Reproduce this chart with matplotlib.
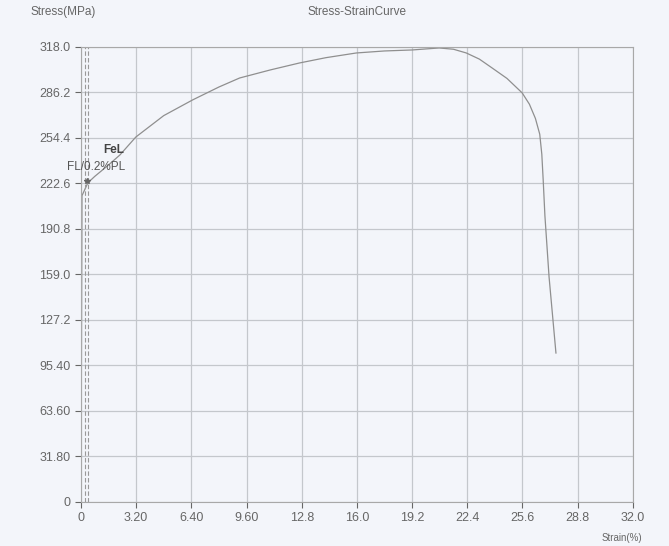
import numpy as np
import matplotlib.pyplot as plt

plt.rcParams['font.family'] = ['Liberation Sans Narrow', 'Liberation Sans', 'DejaVu Sans']

# curve
strain = [0.0, 0.06, 0.4, 0.8, 1.6, 2.26, 3.18, 4.8, 6.48, 8.0, 9.20, 11.0,
          12.67, 14.2, 15.97, 17.6, 19.21, 20.77, 21.6, 22.34, 23.1, 23.84,
          24.7, 25.58, 26.0, 26.35, 26.6, 26.72, 26.8, 26.9, 27.14, 27.54]
stress = [0.0, 214.0, 223.0, 227.5, 235.5, 242.5, 255.0, 270.0, 281.0, 290.0,
          296.3, 302.0, 306.8, 310.5, 313.8, 315.2, 315.9, 317.3, 316.4, 313.8,
          309.5, 303.3, 296.0, 285.9, 278.0, 268.0, 257.0, 243.0, 225.0, 200.0,
          157.3, 104.0]

xticks = [0, 3.2, 6.4, 9.6, 12.8, 16.0, 19.2, 22.4, 25.6, 28.8, 32.0]
xlabels = ['0', '3.20', '6.40', '9.60', '12.8', '16.0', '19.2', '22.4', '25.6', '28.8', '32.0']
yticks = [0, 31.8, 63.6, 95.4, 127.2, 159.0, 190.8, 222.6, 254.4, 286.2, 318.0]
ylabels = ['0', '31.80', '63.60', '95.40', '127.2', '159.0', '190.8', '222.6', '254.4', '286.2', '318.0']

yield_lines = [0.23, 0.41]

fig = plt.figure(figsize=(6.69, 5.46), dpi=100, facecolor='#f3f5fa')
ax = fig.add_axes([0.121, 0.081, 0.825, 0.833])
ax.set_facecolor('#f3f5fa')

ax.plot(strain, stress, color='#8f8f8f', lw=0.9)
for x in yield_lines:
    ax.axvline(x, color='#999999', lw=0.8, ls=(0, (4, 2)))

ax.set_xlim(0, 32.0)
ax.set_ylim(0, 318.0)
ax.set_xticks(xticks)
ax.set_xticklabels(xlabels)
ax.set_yticks(yticks)
ax.set_yticklabels(ylabels)
ax.grid(True, color='#c4c7cc', lw=0.9)
ax.tick_params(labelsize=9, colors='#666666', length=4, width=0.8)
for s in ax.spines.values():
    s.set_color('#a8a8a8')

ax.text(1.3, 244, 'FeL', fontsize=8.5, color='#444444', fontweight='bold')
ax.text(-0.8, 232, 'FL/0.2%PL', fontsize=8.5, color='#555555')
ax.plot([0.35], [224], marker='*', ms=4, color='#666666')

fig.text(0.045, 0.978, 'Stress(MPa)', fontsize=8.5, color='#666666', va='center')
fig.text(0.533, 0.978, 'Stress-StrainCurve', fontsize=8.5, color='#666666', ha='center', va='center')
fig.text(0.93, 0.006, 'Strain(%)', fontsize=7, color='#666666', ha='center', va='bottom')

fig.savefig('out.png', dpi=100, facecolor=fig.get_facecolor())
